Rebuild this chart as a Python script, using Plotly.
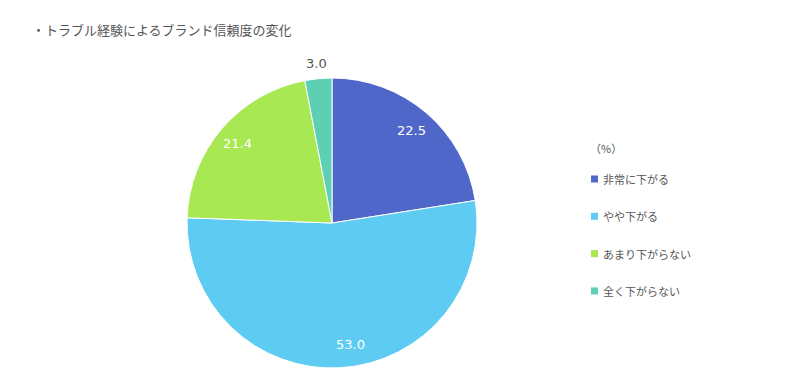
import math
import plotly.graph_objects as go

title = "・トラブル経験によるブランド信頼度の変化"
labels = ["非常に下がる", "やや下がる", "あまり下がらない", "全く下がらない"]
values = [22.5, 53.0, 21.4, 3.0]
colors = ["#4F67C9", "#5ECBF3", "#A8E853", "#5DD0B4"]
legend_title = "（%）"

W, H = 800, 387
OFF = 8  # body margin of the html page
cx, cy, r = 332 - OFF, 223 - OFF, 145
label_xshift = [0, 11, -2, 0]
FONT = "DejaVu Sans, Noto Sans CJK JP, sans-serif"

fig = go.Figure()
fig.add_trace(go.Pie(
    labels=labels, values=values, sort=False, direction="clockwise", rotation=0,
    marker=dict(colors=colors, line=dict(color="white", width=1)),
    textinfo="none",
    domain=dict(x=[(cx - r) / W, (cx + r) / W], y=[(H - cy - r) / H, (H - cy + r) / H]),
    showlegend=False, hoverinfo="label+value",
))

# value labels placed along each slice's mid-angle
total = sum(values)
cum = 0.0
for i, v in enumerate(values):
    mid = (cum + v / 2) / total * 2 * math.pi
    cum += v
    inside = v >= 10
    d = 122 if inside else 160
    px = cx + d * math.sin(mid)
    py = cy - d * math.cos(mid)
    fig.add_annotation(x=px / W, y=1 - py / H, xref="paper", yref="paper",
                       text=f"{v:.1f}", showarrow=False, xshift=label_xshift[i],
                       font=dict(size=13, color="white" if inside else "#555555", family=FONT),
                       xanchor="center", yanchor="middle")

fig.add_annotation(x=(30 - OFF) / W, y=1 - (30 - OFF) / H, xref="paper", yref="paper", text=title,
                   showarrow=False, font=dict(size=13, color="#555555"),
                   xanchor="left", yanchor="middle")

fig.add_annotation(x=(605.5 - OFF) / W, y=1 - (148 - OFF) / H, xref="paper", yref="paper",
                   text=legend_title, showarrow=False, font=dict(size=11, color="#555555"),
                   xanchor="center", yanchor="middle")
shapes = []
y0 = 179 - OFF
for i, (lab, col) in enumerate(zip(labels, colors)):
    y = y0 + i * 37.3
    shapes.append(dict(type="rect", xref="paper", yref="paper",
                       x0=(591 - OFF) / W, x1=(598 - OFF) / W,
                       y0=1 - (y + 3.5) / H, y1=1 - (y - 3.5) / H,
                       fillcolor=col, line=dict(width=0)))
    fig.add_annotation(x=(601 - OFF) / W, y=1 - y / H, xref="paper", yref="paper", text=lab,
                       showarrow=False, font=dict(size=11, color="#555555"),
                       xanchor="left", yanchor="middle")

fig.update_layout(width=W, height=H, margin=dict(l=0, r=0, t=0, b=0),
                  paper_bgcolor="white", plot_bgcolor="white", shapes=shapes,
                  font=dict(family="Noto Sans CJK JP, Noto Sans, sans-serif", color="#555555"))
fig.write_html("out.html")
